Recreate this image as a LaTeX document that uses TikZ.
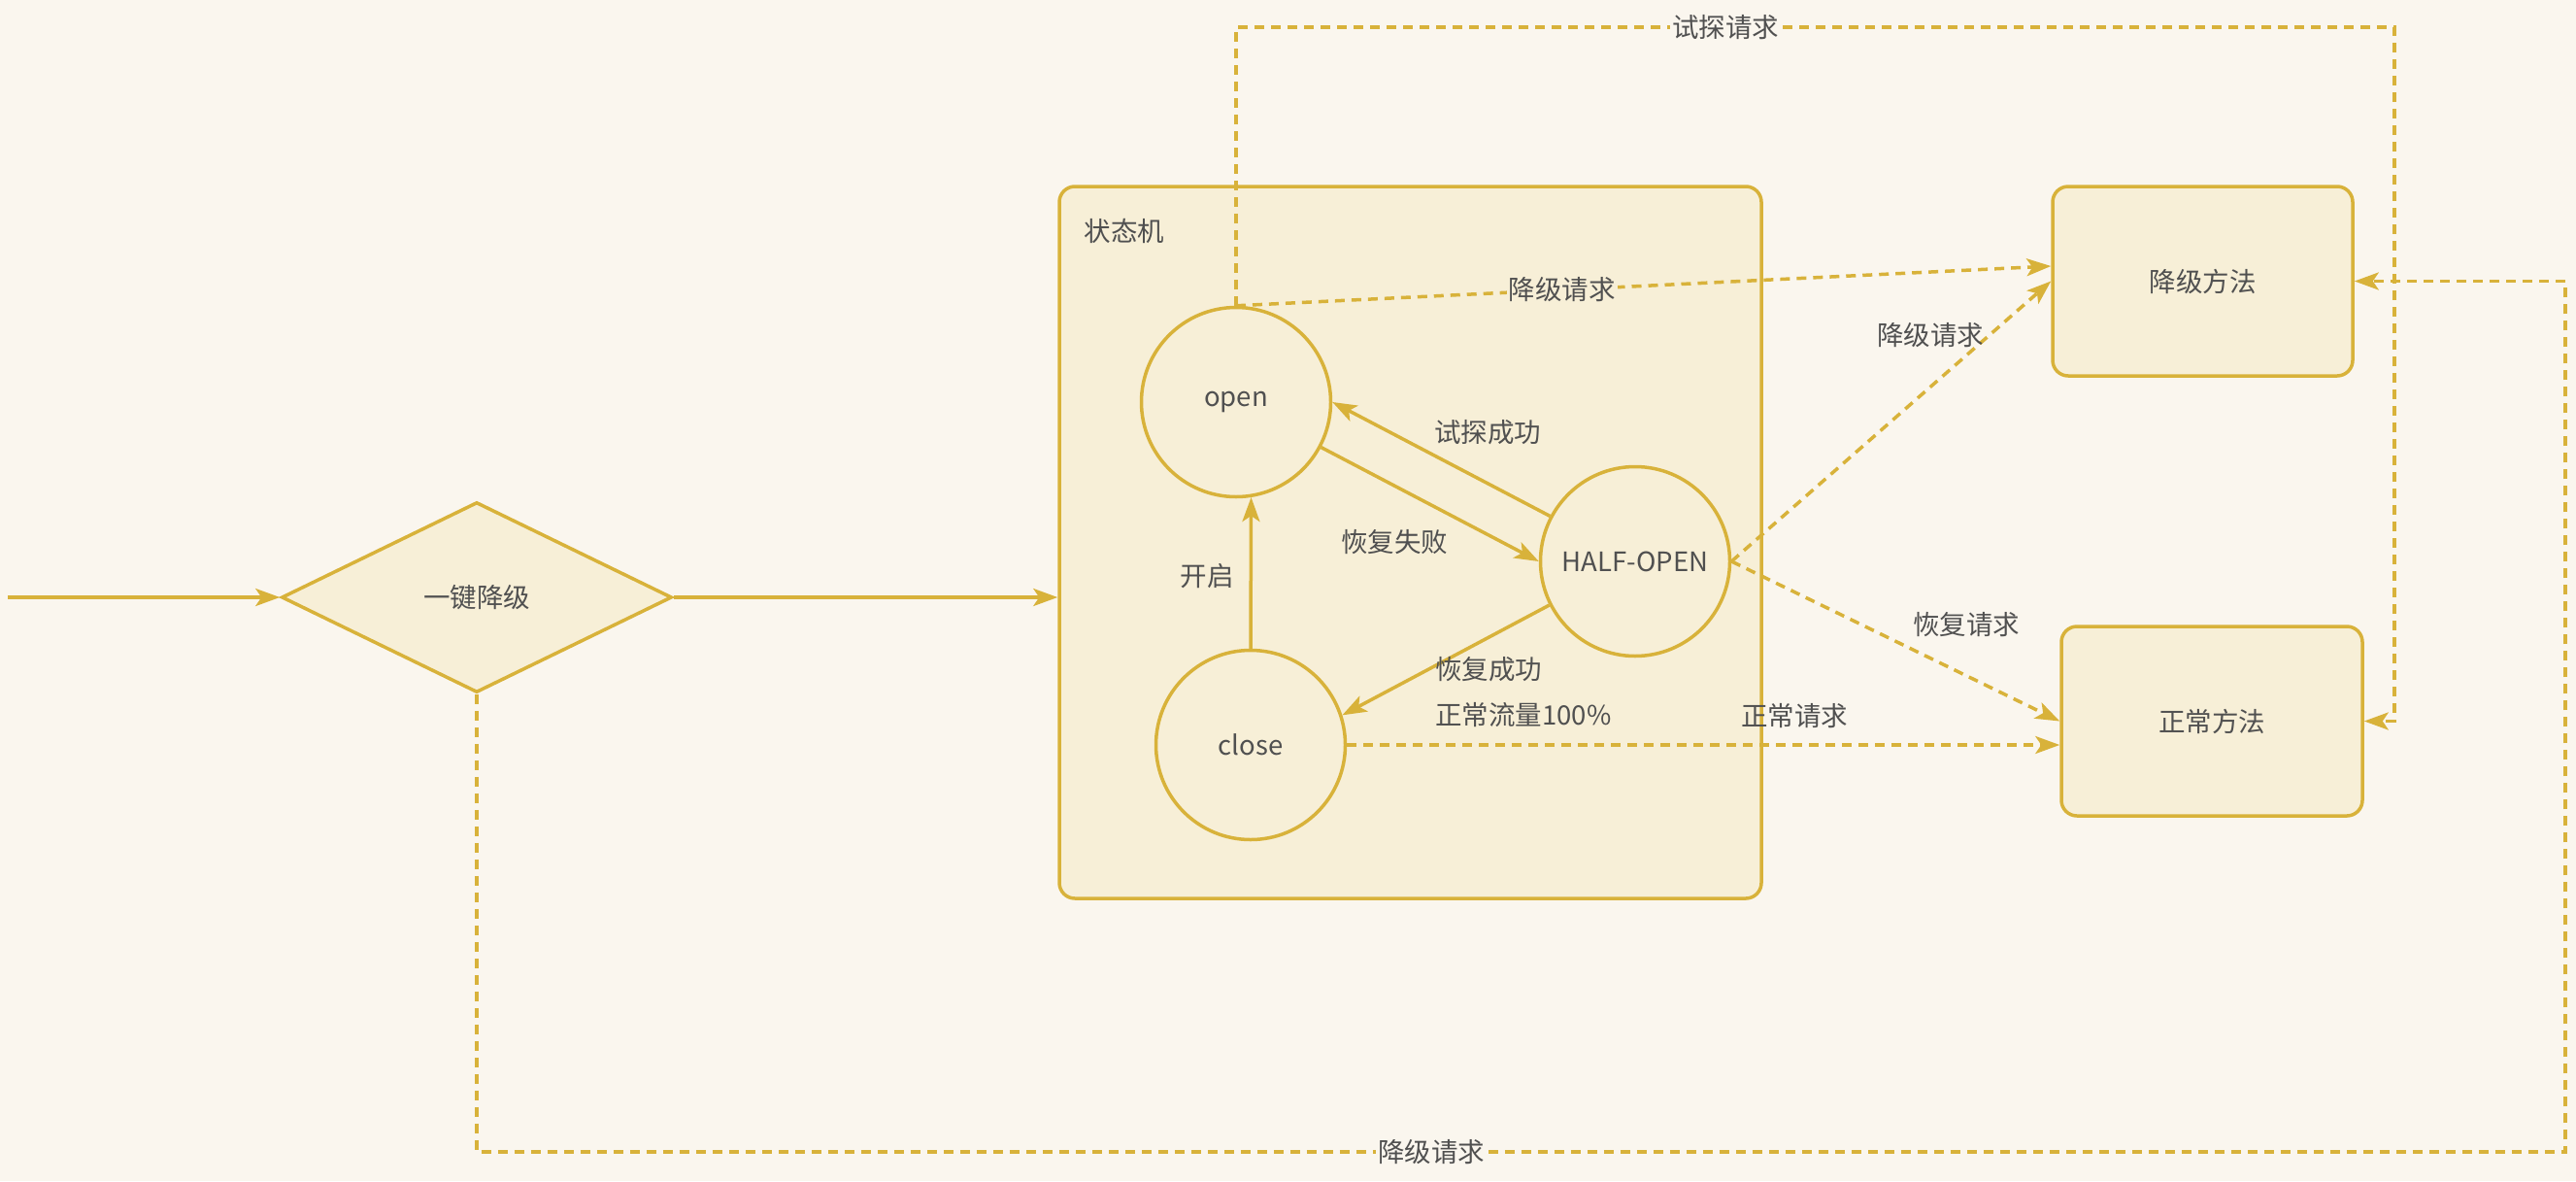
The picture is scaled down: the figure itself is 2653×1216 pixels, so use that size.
\documentclass[tikz,border=0pt]{standalone}
\usepackage{fontspec}
\setmainfont{Noto Sans CJK SC}
\usetikzlibrary{arrows.meta,shapes.geometric,calc}
\definecolor{bg}{HTML}{FAF6EE}
\definecolor{nodefill}{HTML}{F7EFD7}
\definecolor{gold}{HTML}{D8B23A}
\definecolor{txt}{HTML}{505050}
\begin{document}
\begin{tikzpicture}[x=1pt,y=-1pt,
  every node/.style={font=\fontsize{27.5}{31}\selectfont, text=txt},
  shapebox/.style={draw=gold, fill=nodefill, line width=3.5pt},
  state/.style={shapebox, circle, minimum size=195pt, inner sep=0pt},
  method/.style={shapebox, rectangle, rounded corners=16pt, inner sep=0pt},
  flow/.style={draw=gold, line width=3.5pt, -{Stealth[length=25pt,width=18pt,inset=6pt]}},
  dflow/.style={flow, dash pattern=on 10pt off 7pt},
  lbl/.style={inner sep=2pt},
]
\fill[bg] (0,0) rectangle (2653,1216);
\useasboundingbox (0,0) rectangle (2653,1216);

% nodes
\node[shapebox, diamond, minimum width=402pt, minimum height=196pt, inner sep=0pt] (jian) at (491,615) {一键降级};
\node[shapebox, rectangle, rounded corners=16pt, minimum width=723pt, minimum height=733pt] (sm) at (1452.5,558.5) {};
\node[lbl] (smlabel) at (1158,238) {状态机};
\node[state] (open) at (1273,414) {open};
\node[state] (half) at (1684,578) {HALF-OPEN};
\node[state] (close) at (1288,767) {close};
\node[method, minimum width=309pt, minimum height=195pt] (jjff) at (2268.5,289.5) {降级方法};
\node[method, minimum width=310pt, minimum height=195pt] (zcff) at (2278,742.5) {正常方法};

% solid connectors
\coordinate (in) at (8,615);
\draw[flow] (in) -- (jian.west);
\draw[flow] (jian.east) -- (jian.east -| sm.west);
\draw[flow] (close.north) -- (open.-81);
\draw[flow] (half.152) -- (open.0);
\draw[flow] (open.-28) -- (half.180);
\draw[flow] (half.207) -- (close.18);

% labels of the state machine
\node[lbl] (lkq) at (1243,593) {开启};
\node[lbl] (ltc) at (1532,445) {试探成功};
\node[lbl] (lhs) at (1436,558) {恢复失败};
\node[lbl, align=left, anchor=west, font=\fontsize{27.5}{47}\selectfont] (lhc) at (1476,713) {恢复成功\\正常流量100\%};

% dashed connectors
\draw[dflow] (close.east) -- (close.east -| zcff.west);
\draw[dflow] (half.east) -- (zcff.west);
\draw[dflow] (half.east) -- (jjff.west);
\draw[dflow] (open.north) -- ($(jjff.west)+(0,-15.5)$) node[lbl, pos=0.4, fill=nodefill] (ljj1) {降级请求};
\coordinate (tr) at (2466,28);
\draw[dflow] (open.north) |- (tr) |- (zcff.east);
\coordinate (bl) at (491,1186);
\coordinate (br) at (2642,1186);
\draw[dflow] (jian.south) -- (bl) -- (br) |- (jjff.east);

\node[lbl, fill=bg] (lts) at (1777,28) {试探请求};
\node[lbl, fill=bg] (ljj3) at (1474,1186) {降级请求};
\node[lbl] (ljj2) at (1988,345) {降级请求};
\node[lbl] (lhf) at (2025,643) {恢复请求};
\node[lbl] (lzc) at (1848,737) {正常请求};
\end{tikzpicture}
\end{document}
